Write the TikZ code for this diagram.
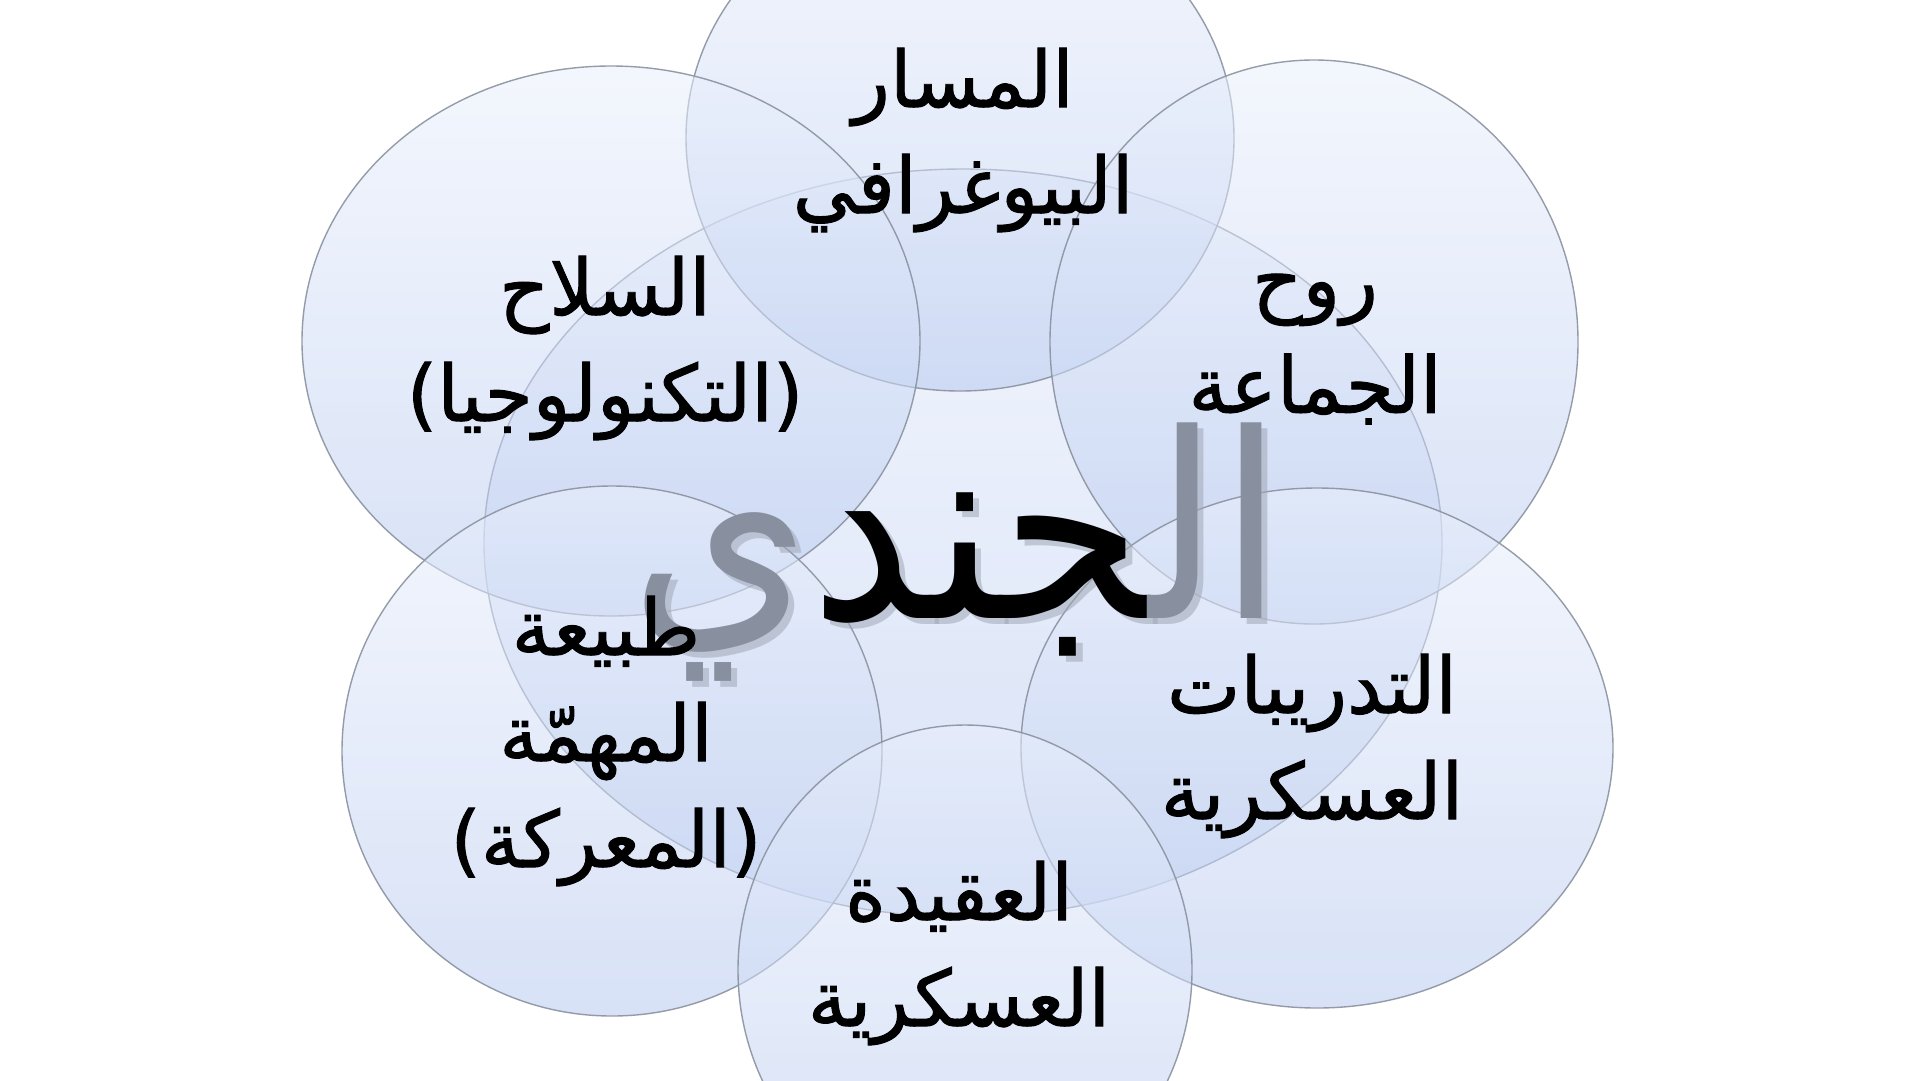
\documentclass[tikz,border=0pt]{standalone}
\usepackage{fontspec}
\usetikzlibrary{shapes.geometric}
\newfontfamily\arabicfont[Script=Arabic,FakeBold=1.2]{DejaVu Sans}
\newfontfamily\arabicbig[Script=Arabic]{DejaVu Sans}
\TeXXeTstate=1

\definecolor{ctop}{RGB}{234,240,252}
\definecolor{cbot}{RGB}{184,202,240}
\definecolor{edgec}{RGB}{138,146,160}
\definecolor{wordgray}{RGB}{136,144,160}
\definecolor{shadowgray}{RGB}{160,168,182}

\tikzset{
  venn/.style={ellipse, inner sep=0pt, draw=edgec, line width=1.4pt,
    top color=ctop, bottom color=cbot, fill opacity=0.55, draw opacity=0.9},
  lbl/.style={align=center, inner sep=0pt, text=black,
    font=\arabicfont\fontsize{78}{106}\selectfont},
  bigword/.style={inner sep=0pt, font=\arabicbig\fontsize{230}{230}\selectfont}
}

\begin{document}
\begin{tikzpicture}[x=1pt,y=-1pt]
\useasboundingbox (0,0) rectangle (1920,1080);
\fill[white] (0,0) rectangle (1920,1080);

% circles
\node[venn, minimum width=958pt, minimum height=748pt] (C)  at (963,543) {};
\node[venn, minimum width=548pt, minimum height=506pt] (T)  at (960,138) {};
\node[venn, minimum width=618pt, minimum height=550pt] (UL) at (611,341) {};
\node[venn, minimum width=528pt, minimum height=564pt] (UR) at (1314,342) {};
\node[venn, minimum width=592pt, minimum height=520pt] (LR) at (1317,748) {};
\node[venn, minimum width=540pt, minimum height=530pt] (LL) at (612,751) {};
\node[venn, minimum width=454pt, minimum height=490pt] (B)  at (965,970) {};

% centre word (shadow, then face: gray alef-lam and ya, black jim-nun-dal)
\node[bigword, text=shadowgray, opacity=0.55] (Wsh) at (963,558)
  {\scalebox{1}[1.12]{\beginR الجندي\endR}};
\node[bigword] (W) at (957,552)
  {\scalebox{1}[1.12]{{\color{wordgray}\beginR ي\endR}\beginR ^^^^200dجند\endR{\color{wordgray}\beginR ال^^^^200d\endR}}};

% labels
\node[lbl] (tT)  at (963,140)  {\beginR المسار\endR\\\beginR البيوغرافي\endR};
\node[lbl] (tUL) at (605,348)  {\beginR السلاح\endR\\\beginR (التكنولوجيا)\endR};
\node[lbl] (tUR) at (1315,349) {\beginR روح\endR\\\beginR الجماعة\endR};
\node[lbl] (tLR) at (1312,746) {\beginR التدريبات\endR\\\beginR العسكرية\endR};
\node[lbl] (tB)  at (959,953)  {\beginR العقيدة\endR\\\beginR العسكرية\endR};
\node[lbl] (tLL) at (606,741)  {\beginR طبيعة\endR\\\beginR المهمّة\endR\\\beginR (المعركة)\endR};
\end{tikzpicture}
\end{document}
